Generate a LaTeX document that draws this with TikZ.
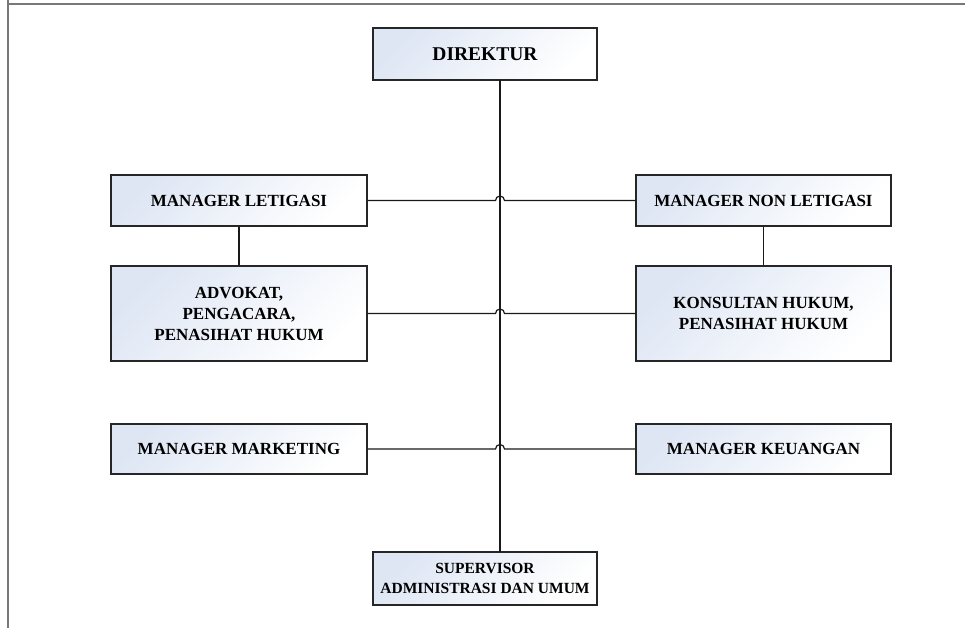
\documentclass[tikz,border=0pt]{standalone}
\usepackage{fontspec}
\setmainfont{Liberation Serif}
\definecolor{boxfill}{RGB}{222,230,244}
\definecolor{framegray}{RGB}{120,120,120}
\tikzset{
  orgbox/.style={draw=black!85, line width=1.1pt, inner sep=0pt, align=center,
    top color=boxfill, bottom color=white, shading angle=45,
    font=\fontsize{17}{21}\selectfont\bfseries},
  conn/.style={draw=black!90, line width=1.2pt}
}
\begin{document}
\begin{tikzpicture}[x=1pt,y=1pt]
\useasboundingbox (0,0) rectangle (965,628);
% frame
\draw[framegray, line width=1.6pt] (8,628) -- (8,624) -- (965,624);
\draw[framegray, line width=1.6pt] (8,624) -- (8,0);
% boxes
\node[orgbox, minimum width=224pt, minimum height=52pt, font=\fontsize{19.5}{23}\selectfont\bfseries] (dir) at (485,574) {DIREKTUR};
\node[orgbox, minimum width=256pt, minimum height=51pt] (ml) at (239,427.5) {MANAGER LETIGASI};
\node[orgbox, minimum width=255pt, minimum height=51pt] (mnl) at (763.5,427.5) {MANAGER NON LETIGASI};
\node[orgbox, minimum width=256pt, minimum height=95pt] (adv) at (239,314.5) {ADVOKAT,\\PENGACARA,\\PENASIHAT HUKUM};
\node[orgbox, minimum width=255pt, minimum height=95pt] (kons) at (763.5,314.5) {KONSULTAN HUKUM,\\PENASIHAT HUKUM};
\node[orgbox, minimum width=256pt, minimum height=50pt] (mm) at (239,179) {MANAGER MARKETING};
\node[orgbox, minimum width=255pt, minimum height=50pt] (mk) at (763.5,179) {MANAGER KEUANGAN};
\node[orgbox, minimum width=224pt, minimum height=53pt, font=\fontsize{15.5}{20.5}\selectfont\bfseries] (sup) at (485,49.5) {SUPERVISOR\\ADMINISTRASI DAN UMUM};
% trunk
\coordinate (ttop) at (500,548);
\coordinate (tbot) at (500,76);
\draw[conn] (ttop) -- (tbot);
% verticals
\draw[conn] (ml.south) -- (adv.north);
\draw[conn] (mnl.south) -- (kons.north);
% horizontals with hops
\draw[conn] (ml.east) -- ([xshift=-4.5pt]ml.east -| ttop) arc[start angle=180, end angle=0, radius=4.5pt] -- (mnl.west);
\draw[conn] (adv.east) -- ([xshift=-4.5pt]adv.east -| ttop) arc[start angle=180, end angle=0, radius=4.5pt] -- (kons.west);
\draw[conn] (mm.east) -- ([xshift=-4.5pt]mm.east -| ttop) arc[start angle=180, end angle=0, radius=4.5pt] -- (mk.west);
\end{tikzpicture}
\end{document}
